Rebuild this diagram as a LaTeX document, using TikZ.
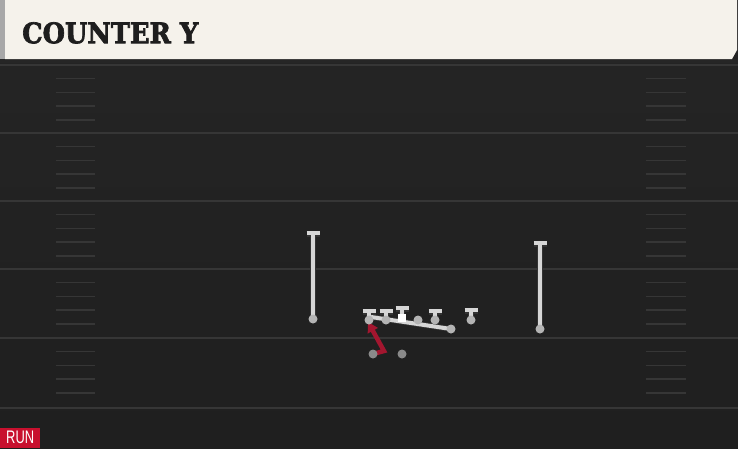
\documentclass[tikz,border=0pt]{standalone}
\usepackage{fontspec}
\usepackage{graphicx}
\usetikzlibrary{arrows.meta}
\newfontfamily\titlefont{DejaVu Serif}[BoldFeatures={FakeBold=2.5}]
\newfontfamily\tagfont{Liberation Sans}
\definecolor{fieldbg}{HTML}{252525}
\definecolor{fieldlow}{HTML}{1F1F1F}
\definecolor{yardline}{HTML}{363636}
\definecolor{cream}{HTML}{F5F2EB}
\definecolor{strip}{HTML}{A8A8A8}
\definecolor{titletext}{HTML}{1E1E1E}
\definecolor{runred}{HTML}{C8102E}
\definecolor{redroute}{HTML}{A3162F}
\definecolor{routegray}{HTML}{D6D6D6}
\definecolor{player}{HTML}{B4B4B4}
\definecolor{back}{HTML}{8A8A8A}
\pgfdeclarelayer{field}
\pgfdeclarelayer{routes}
\pgfsetlayers{field,routes,main}
\begin{document}
\begin{tikzpicture}[x=1pt,y=-1pt,
        yardsty/.style={draw=yardline,line width=2pt},
        hashsty/.style={draw=yardline,line width=1.5pt},
        psty/.style={circle,fill=player,inner sep=0pt,minimum size=9pt},
        csty/.style={rectangle,fill=white,inner sep=0pt,minimum size=8pt},
        bsty/.style={psty,fill=back},
        rsty/.style={draw=routegray,line width=4pt,
            preaction={draw=black!80,line width=5.5pt}},
        tsty/.style={rsty,-{Bar[width=13pt]}},
        redsty/.style={draw=redroute,line width=4.5pt,line join=miter,
            -{Triangle[length=10pt,width=11pt]}},
    ]
    \useasboundingbox (0,0) rectangle (738,448);

    % field
    \begin{pgfonlayer}{field}
    \shade[top color=fieldbg,bottom color=fieldlow] (0,0) rectangle (738,448);
    \foreach \yy in {65,133,201,269,338,408}{
        \draw[yardsty] (0,\yy) -- (738,\yy);
    }
    \foreach \yy in {65,133,201,269,338}{
        \foreach \k in {1,...,4}{
            \draw[hashsty] (56,\yy+13.7*\k) -- (95,\yy+13.7*\k);
            \draw[hashsty] (646,\yy+13.7*\k) -- (686,\yy+13.7*\k);
        }
    }
    \fill[black!85] (0,59) rectangle (738,63);
    \fill[cream] (5,0) -- (737,0) -- (737,50) -- (732,59) -- (5,59) -- cycle;
    \fill[strip] (0,0) rectangle (5,59);
    \end{pgfonlayer}

    \node[anchor=north west,inner sep=0pt,text=titletext] (title) at (22,22)
        {\resizebox{176pt}{21pt}{\titlefont\bfseries COUNTER Y}};
    \node[fill=runred,text=white,anchor=south west,minimum width=40pt,
        minimum height=20pt,inner sep=0pt] (tag) at (0,448)
        {\resizebox{28pt}{12.5pt}{\tagfont RUN}};

    % players
    \node[psty] (wr1) at (313,319) {};
    \node[psty] (wr2) at (540,329) {};
    \foreach \n/\ox/\oy in {lt/369/320,lg/386/320,rg/418/320,rt/435/320,wg/471/320}{
        \node[psty] (\n) at (\ox,\oy) {};
    }
    \node[csty] (c) at (402,318) {};
    \node[psty] (y) at (451,329) {};
    \node[bsty] (qb) at (402,354) {};
    \node[bsty] (rb) at (373,354) {};

    \coordinate (wr1e) at (313,231);
    \coordinate (wr2e) at (540,241);
    \coordinate (lte) at (369,309);
    \coordinate (lge) at (386,309);
    \coordinate (ce) at (402,306);
    \coordinate (rte) at (435,309);
    \coordinate (wge) at (471,308);
    \coordinate (ye) at (371,317);
    \coordinate (rbk) at (384,351);
    \coordinate (rbe) at (368,322);

    % routes
    \begin{pgfonlayer}{routes}
    \draw[tsty] (wr1.center) -- (wr1e);
    \draw[tsty] (wr2.center) -- (wr2e);
    \draw[tsty] (lt.center) -- (lte);
    \draw[tsty] (lg.center) -- (lge);
    \draw[tsty] (c.center) -- (ce);
    \draw[tsty] (rt.center) -- (rte);
    \draw[tsty] (wg.center) -- (wge);
    \draw[rsty] (y.center) -- (ye);
    \draw[redsty] (rb.center) -- (rbk) -- (rbe);
    \end{pgfonlayer}
\end{tikzpicture}
\end{document}
